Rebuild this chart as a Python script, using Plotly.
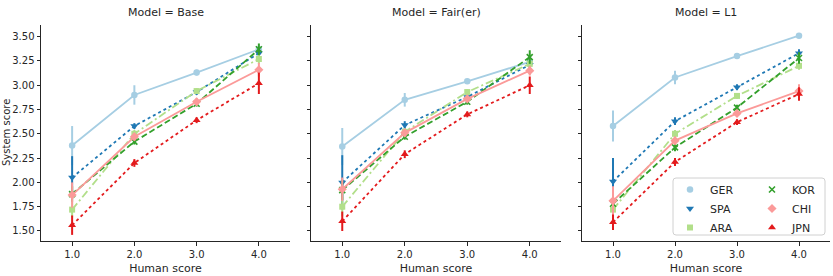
import plotly.graph_objects as go

# ---------------- data ----------------
human_scores = ["1.0", "2.0", "3.0", "4.0"]
models = ["Base", "Fair(er)", "L1"]
languages = ["GER", "SPA", "ARA", "KOR", "CHI", "JPN"]

y_tickvals = [1.50, 1.75, 2.00, 2.25, 2.50, 2.75, 3.00, 3.25, 3.50]
y_ticktext = ["1.50", "1.75", "2.00", "2.25", "2.50", "2.75", "3.00", "3.25", "3.50"]

# mean system score per model / language (x = human score 1..4)
base_GER = [2.38, 2.90, 3.13, 3.37]
base_SPA = [2.05, 2.58, 2.93, 3.33]
base_ARA = [1.72, 2.50, 2.94, 3.27]
base_KOR = [1.88, 2.42, 2.81, 3.37]
base_CHI = [1.87, 2.47, 2.83, 3.16]
base_JPN = [1.56, 2.20, 2.64, 3.02]

fair_GER = [2.37, 2.85, 3.04, 3.24]
fair_SPA = [2.00, 2.59, 2.88, 3.21]
fair_ARA = [1.75, 2.52, 2.93, 3.22]
fair_KOR = [1.92, 2.47, 2.83, 3.29]
fair_CHI = [1.93, 2.51, 2.86, 3.15]
fair_JPN = [1.60, 2.29, 2.70, 3.00]

l1_GER = [2.58, 3.08, 3.30, 3.51]
l1_SPA = [2.01, 2.63, 2.98, 3.33]
l1_ARA = [1.72, 2.50, 2.89, 3.20]
l1_KOR = [1.78, 2.36, 2.77, 3.28]
l1_CHI = [1.81, 2.43, 2.71, 2.94]
l1_JPN = [1.59, 2.21, 2.62, 2.91]

# error-bar half widths
base_GER_err = [0.20, 0.10, 0.03, 0.03]
base_SPA_err = [0.22, 0.03, 0.03, 0.04]
base_ARA_err = [0.08, 0.04, 0.03, 0.05]
base_KOR_err = [0.08, 0.03, 0.03, 0.06]
base_CHI_err = [0.13, 0.04, 0.04, 0.07]
base_JPN_err = [0.10, 0.04, 0.03, 0.11]

fair_GER_err = [0.19, 0.07, 0.02, 0.03]
fair_SPA_err = [0.28, 0.04, 0.03, 0.04]
fair_ARA_err = [0.10, 0.04, 0.03, 0.05]
fair_KOR_err = [0.10, 0.03, 0.03, 0.07]
fair_CHI_err = [0.12, 0.04, 0.03, 0.05]
fair_JPN_err = [0.10, 0.04, 0.03, 0.09]

l1_GER_err = [0.16, 0.07, 0.02, 0.02]
l1_SPA_err = [0.24, 0.04, 0.03, 0.04]
l1_ARA_err = [0.08, 0.04, 0.03, 0.04]
l1_KOR_err = [0.08, 0.04, 0.03, 0.06]
l1_CHI_err = [0.15, 0.04, 0.03, 0.07]
l1_JPN_err = [0.08, 0.04, 0.03, 0.07]

values = {
    "Base": [base_GER, base_SPA, base_ARA, base_KOR, base_CHI, base_JPN],
    "Fair(er)": [fair_GER, fair_SPA, fair_ARA, fair_KOR, fair_CHI, fair_JPN],
    "L1": [l1_GER, l1_SPA, l1_ARA, l1_KOR, l1_CHI, l1_JPN],
}
errors = {
    "Base": [base_GER_err, base_SPA_err, base_ARA_err, base_KOR_err, base_CHI_err, base_JPN_err],
    "Fair(er)": [fair_GER_err, fair_SPA_err, fair_ARA_err, fair_KOR_err, fair_CHI_err, fair_JPN_err],
    "L1": [l1_GER_err, l1_SPA_err, l1_ARA_err, l1_KOR_err, l1_CHI_err, l1_JPN_err],
}

# ---------------- style ----------------
colors = ["#a6cee3", "#1f78b4", "#b2df8a", "#33a02c", "#fb9a99", "#e31a1c"]
dashes = ["solid", "dot", "8px,3px,2px,3px", "6px,3px", "solid", "dot"]
symbols = ["circle", "triangle-down", "square", "x-thin", "diamond", "triangle-up"]
sizes = [6.5, 7, 6, 6, 7, 7]
TXT = "#262626"
FONT = "DejaVu Sans"

W, H = 833, 276
ML, MR, MT, MB = 41, 3, 25, 35
PW = W - ML - MR
PH = H - MT - MB

def px_x(p):
    return (p - ML) / PW

def px_y(p):
    return 1 - (p - MT) / PH

domains = [(px_x(41), px_x(290)), (px_x(311), px_x(561)), (px_x(582), px_x(830))]

fig = go.Figure()

for mi, model in enumerate(models):
    ax = "" if mi == 0 else str(mi + 1)
    for li, lang in enumerate(languages):
        fig.add_trace(go.Scatter(
            x=human_scores, y=values[model][li],
            xaxis="x" + ax, yaxis="y" + ax,
            mode="lines+markers",
            name=lang, showlegend=False,
            line=dict(color=colors[li], width=1.8, dash=dashes[li]),
            marker=dict(symbol=symbols[li], size=sizes[li], color=colors[li],
                        line=dict(color=colors[li], width=1.6 if symbols[li] == "x-thin" else 0)),
            error_y=dict(type="data", array=errors[model][li], visible=True,
                         color=colors[li], thickness=2, width=0),
        ))

# legend-only entries (markers only)
for li, lang in enumerate(languages):
    fig.add_trace(go.Scatter(
        x=[None], y=[None], xaxis="x3", yaxis="y3",
        mode="markers", name=lang,
        legend="legend" if li < 3 else "legend2",
        marker=dict(symbol=symbols[li], size=sizes[li], color=colors[li],
                    line=dict(color=colors[li], width=1.6 if symbols[li] == "x-thin" else 0)),
    ))

axis_common = dict(
    showline=True, linecolor=TXT, linewidth=1, ticks="outside", ticklen=3.5,
    tickwidth=1, tickcolor=TXT, showgrid=False, zeroline=False,
    tickfont=dict(family=FONT, size=10, color=TXT),
)

layout = dict(
    width=W, height=H,
    margin=dict(l=ML, r=MR, t=MT, b=MB),
    paper_bgcolor="white", plot_bgcolor="white",
    font=dict(family=FONT, color=TXT),
    annotations=[],
    shapes=[],
)

for mi, model in enumerate(models):
    ax = "" if mi == 0 else str(mi + 1)
    layout["xaxis" + ax] = dict(
        axis_common, domain=list(domains[mi]), anchor="y" + ax,
        type="category", range=[-0.5, 3.5],
        title=dict(text="Human score", font=dict(family=FONT, size=11, color=TXT), standoff=5),
    )
    layout["yaxis" + ax] = dict(
        axis_common, anchor="x" + ax, range=[1.397, 3.62],
        tickvals=y_tickvals, ticktext=y_ticktext,
        showticklabels=(mi == 0),
    )
    layout["annotations"].append(dict(
        text="Model = " + model, xref="paper", yref="paper",
        x=(domains[mi][0] + domains[mi][1]) / 2, y=1, yanchor="bottom",
        xanchor="center", yshift=4, showarrow=False,
        font=dict(family=FONT, size=11, color=TXT),
    ))

layout["annotations"].append(dict(
    text="System score", xref="paper", yref="paper",
    x=px_x(6), y=0.5, xanchor="center", yanchor="middle",
    textangle=-90, showarrow=False,
    font=dict(family=FONT, size=10, color=TXT),
))

# legend frame
x0, x1 = px_x(673), px_x(825)
y0, y1 = px_y(235), px_y(178)
rx, ry = 3 / PW, 3 / PH
path = (f"M {x0+rx},{y0} L {x1-rx},{y0} Q {x1},{y0} {x1},{y0+ry} "
        f"L {x1},{y1-ry} Q {x1},{y1} {x1-rx},{y1} L {x0+rx},{y1} "
        f"Q {x0},{y1} {x0},{y1-ry} L {x0},{y0+ry} Q {x0},{y0} {x0+rx},{y0} Z")
layout["shapes"].append(dict(
    type="path", path=path, xref="paper", yref="paper",
    line=dict(color="#d0d0d0", width=1), fillcolor="rgba(255,255,255,0.8)",
    layer="below",
))

leg_common = dict(
    bgcolor="rgba(0,0,0,0)", borderwidth=0, tracegroupgap=0,
    font=dict(family=FONT, size=11, color=TXT),
    xanchor="left", yanchor="top", itemwidth=30,
)
layout["legend"] = dict(leg_common, x=px_x(670), y=px_y(175))
layout["legend2"] = dict(leg_common, x=px_x(752), y=px_y(175))

fig.update_layout(**layout)
fig.write_html("out.html")
